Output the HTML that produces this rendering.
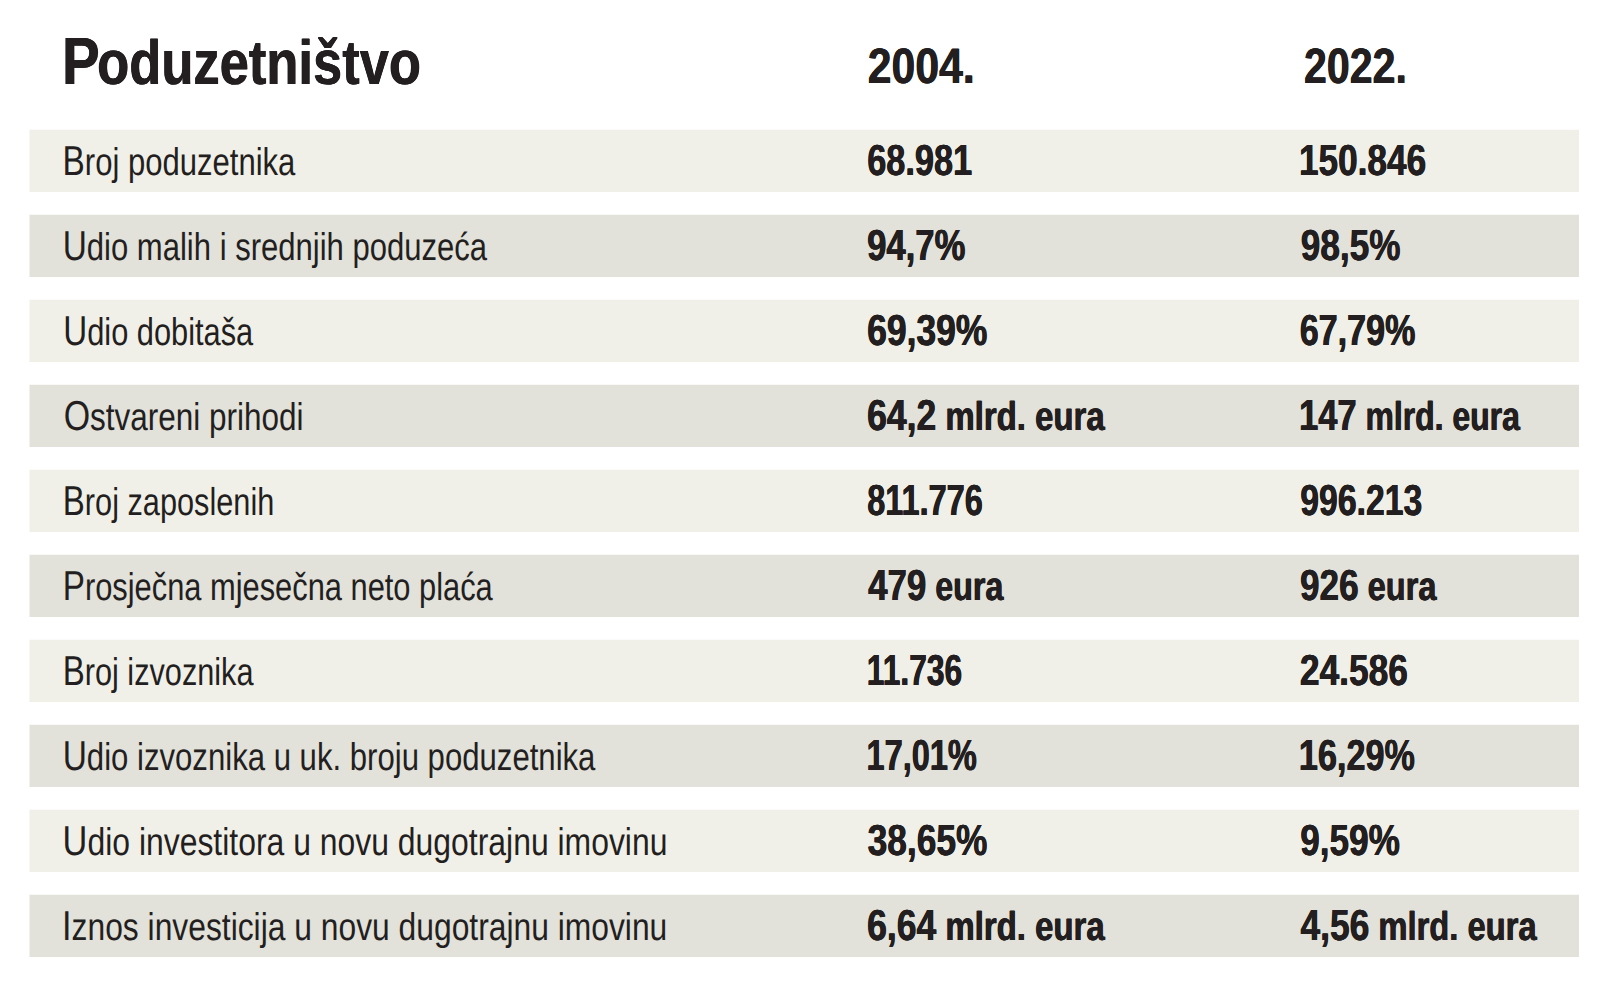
<!DOCTYPE html>
<html lang="hr">
<head>
<meta charset="utf-8">
<title>Poduzetništvo 2004. – 2022.</title>
<style>
html,body{margin:0;padding:0;background:#fff;}
body{width:1600px;height:1000px;position:relative;overflow:hidden;font-family:"Liberation Sans",sans-serif;color:#231f20;}
svg.bg{position:absolute;left:0;top:0;width:1600px;height:1000px;display:block;}
.t{position:absolute;white-space:nowrap;line-height:1;text-rendering:geometricPrecision;transform-origin:0 0;display:block;margin:0;padding:0;}
.t .s{line-height:1;}
.lab{font-weight:400;font-size:38.8px;}
.lab::first-letter{font-size:41.8px;}
.val{font-weight:700;font-size:43.5px;text-shadow:0.4px 0 0 #231f20,-0.4px 0 0 #231f20;}
.val .s{font-size:40.3px;}
.hd{font-weight:700;font-size:49.7px;text-shadow:0.4px 0 0 #231f20,-0.4px 0 0 #231f20;}
h1.t{font-weight:700;font-size:62.5px;text-shadow:0.4px 0 0 #231f20,-0.4px 0 0 #231f20;}
h1.t::first-letter{font-size:67.0px;letter-spacing:-3px;}
</style>
</head>
<body>
<svg class="bg" viewBox="0 0 1600 1000" aria-hidden="true">
<rect x="29.5" y="129.75" width="1549.5" height="62.25" fill="#f1f0e8"/>
<rect x="29.5" y="214.75" width="1549.5" height="62.25" fill="#e2e1da"/>
<rect x="29.5" y="299.75" width="1549.5" height="62.25" fill="#f1f0e8"/>
<rect x="29.5" y="384.75" width="1549.5" height="62.25" fill="#e2e1da"/>
<rect x="29.5" y="469.75" width="1549.5" height="62.25" fill="#f1f0e8"/>
<rect x="29.5" y="554.75" width="1549.5" height="62.25" fill="#e2e1da"/>
<rect x="29.5" y="639.75" width="1549.5" height="62.25" fill="#f1f0e8"/>
<rect x="29.5" y="724.75" width="1549.5" height="62.25" fill="#e2e1da"/>
<rect x="29.5" y="809.75" width="1549.5" height="62.25" fill="#f1f0e8"/>
<rect x="29.5" y="894.75" width="1549.5" height="62.25" fill="#e2e1da"/>
</svg>
<h1 class="t" id="title" style="left:0;top:28.00px;transform:translateX(62.10px) scaleX(0.8403)">Poduzetništvo</h1>
<div class="t hd" id="h1" style="left:0;top:42.15px;transform:translateX(867.74px) scaleX(0.8602)">2004.</div>
<div class="t hd" id="h2" style="left:0;top:42.15px;transform:translateX(1304.00px) scaleX(0.8274)">2022.</div>
<div class="t lab" id="l0" style="left:0;top:139.60px;transform:translateX(62.48px) scaleX(0.8002)">Broj poduzetnika</div>
<div class="t lab" id="l1" style="left:0;top:224.60px;transform:translateX(62.68px) scaleX(0.7999)">Udio malih i srednjih poduzeća</div>
<div class="t lab" id="l2" style="left:0;top:309.60px;transform:translateX(63.22px) scaleX(0.7936)">Udio dobitaša</div>
<div class="t lab" id="l3" style="left:0;top:394.60px;transform:translateX(63.65px) scaleX(0.8115)">Ostvareni prihodi</div>
<div class="t lab" id="l4" style="left:0;top:479.60px;transform:translateX(62.79px) scaleX(0.7913)">Broj zaposlenih</div>
<div class="t lab" id="l5" style="left:0;top:564.60px;transform:translateX(62.78px) scaleX(0.7945)">Prosječna mjesečna neto plaća</div>
<div class="t lab" id="l6" style="left:0;top:649.60px;transform:translateX(62.68px) scaleX(0.7906)">Broj izvoznika</div>
<div class="t lab" id="l7" style="left:0;top:734.60px;transform:translateX(62.63px) scaleX(0.8021)">Udio izvoznika u uk. broju poduzetnika</div>
<div class="t lab" id="l8" style="left:0;top:819.60px;transform:translateX(62.62px) scaleX(0.8224)">Udio investitora u novu dugotrajnu imovinu</div>
<div class="t lab" id="l9" style="left:0;top:904.60px;transform:translateX(62.03px) scaleX(0.8197)">Iznos investicija u novu dugotrajnu imovinu</div>
<div class="t val" id="a0" style="left:0;top:140.25px;transform:translateX(867.22px) scaleX(0.7887)">68.981</div>
<div class="t val" id="a1" style="left:0;top:225.25px;transform:translateX(867.13px) scaleX(0.7966)">94,7%</div>
<div class="t val" id="a2" style="left:0;top:310.25px;transform:translateX(867.18px) scaleX(0.8147)">69,39%</div>
<div class="t val" id="a3" style="left:0;top:395.25px;transform:translateX(867.06px) scaleX(0.8173)">64,2<span class="s"> mlrd. eura</span></div>
<div class="t val" id="a4" style="left:0;top:480.25px;transform:translateX(867.18px) scaleX(0.7467)">811.776</div>
<div class="t val" id="a5" style="left:0;top:565.25px;transform:translateX(868.17px) scaleX(0.8004)">479<span class="s"> eura</span></div>
<div class="t val" id="a6" style="left:0;top:650.25px;transform:translateX(866.80px) scaleX(0.7298)">11.736</div>
<div class="t val" id="a7" style="left:0;top:735.25px;transform:translateX(866.56px) scaleX(0.7474)">17,01%</div>
<div class="t val" id="a8" style="left:0;top:820.25px;transform:translateX(867.66px) scaleX(0.8117)">38,65%</div>
<div class="t val" id="a9" style="left:0;top:905.25px;transform:translateX(867.06px) scaleX(0.8173)">6,64<span class="s"> mlrd. eura</span></div>
<div class="t val" id="b0" style="left:0;top:140.25px;transform:translateX(1298.97px) scaleX(0.8087)">150.846</div>
<div class="t val" id="b1" style="left:0;top:225.25px;transform:translateX(1300.74px) scaleX(0.8089)">98,5%</div>
<div class="t val" id="b2" style="left:0;top:310.25px;transform:translateX(1299.69px) scaleX(0.7844)">67,79%</div>
<div class="t val" id="b3" style="left:0;top:395.25px;transform:translateX(1299.06px) scaleX(0.7926)">147<span class="s"> mlrd. eura</span></div>
<div class="t val" id="b4" style="left:0;top:480.25px;transform:translateX(1300.26px) scaleX(0.7762)">996.213</div>
<div class="t val" id="b5" style="left:0;top:565.25px;transform:translateX(1299.99px) scaleX(0.8078)">926<span class="s"> eura</span></div>
<div class="t val" id="b6" style="left:0;top:650.25px;transform:translateX(1299.92px) scaleX(0.8118)">24.586</div>
<div class="t val" id="b7" style="left:0;top:735.25px;transform:translateX(1298.84px) scaleX(0.7872)">16,29%</div>
<div class="t val" id="b8" style="left:0;top:820.25px;transform:translateX(1300.21px) scaleX(0.8081)">9,59%</div>
<div class="t val" id="b9" style="left:0;top:905.25px;transform:translateX(1300.52px) scaleX(0.8121)">4,56<span class="s"> mlrd. eura</span></div>
</body>
</html>
